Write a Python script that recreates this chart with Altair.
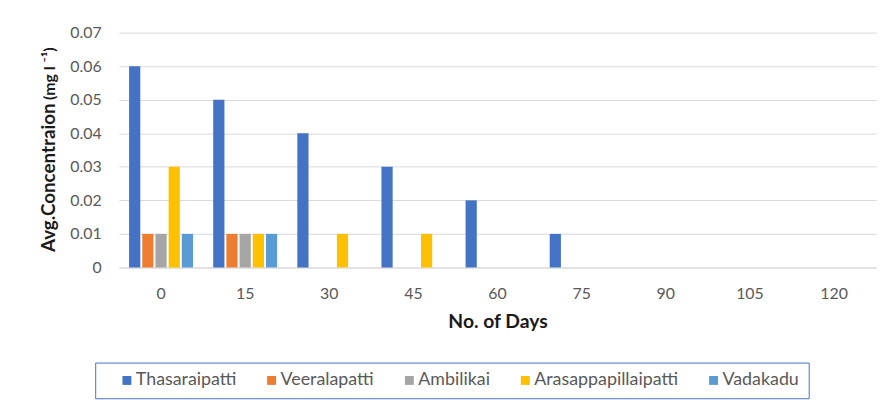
import altair as alt
import pandas as pd

days = ["0", "15", "30", "45", "60", "75", "90", "105", "120"]
series = ["Thasaraipatti", "Veeralapatti", "Ambilikai", "Arasappapillaipatti", "Vadakadu"]
colors = ["#4472C4", "#ED7D31", "#A5A5A5", "#FFC000", "#5B9BD5"]

thasaraipatti = [0.06, 0.05, 0.04, 0.03, 0.02, 0.01, 0, 0, 0]
veeralapatti = [0.01, 0.01, 0, 0, 0, 0, 0, 0, 0]
ambilikai = [0.01, 0.01, 0, 0, 0, 0, 0, 0, 0]
arasappapillaipatti = [0.03, 0.01, 0.01, 0.01, 0, 0, 0, 0, 0]
vadakadu = [0.01, 0.01, 0, 0, 0, 0, 0, 0, 0]

y_ticks = [0, 0.01, 0.02, 0.03, 0.04, 0.05, 0.06, 0.07]

values = [thasaraipatti, veeralapatti, ambilikai, arasappapillaipatti, vadakadu]
rows = []
for s, vals in zip(series, values):
    for d, v in zip(days, vals):
        rows.append({"Day": d, "Site": s, "Value": v})
df = pd.DataFrame(rows)

FONT = "Lato"

bars = alt.Chart(df).mark_bar().encode(
    x=alt.X("Day:N", sort=days,
            scale=alt.Scale(paddingInner=0.24, paddingOuter=0.12),
            axis=alt.Axis(title="No. of Days", labelAngle=0, ticks=False,
                          domainColor="#d9d9d9", labelPadding=18,
                          labelFontSize=16, labelColor="#595959",
                          titleFontSize=19.5, titleFontWeight="bold",
                          titleColor="#1a1a1a", titlePadding=12)),
    xOffset=alt.XOffset("Site:N", sort=series,
                        scale=alt.Scale(paddingInner=0.15)),
    y=alt.Y("Value:Q",
            scale=alt.Scale(domain=[0, 0.07], nice=False),
            axis=alt.Axis(values=y_ticks,
                          labelExpr="datum.value == 0 ? '0' : format(datum.value, '.2f')",
                          domain=False, ticks=False, gridColor="#d9d9d9",
                          labelPadding=18, labelFontSize=16, labelColor="#595959",
                          title="Avg.Concentraion", titleFontSize=19,
                          titleFontWeight="bold", titleColor="#1a1a1a",
                          titleAngle=270, titleAlign="left",
                          titleBaseline="alphabetic", titleX=-65, titleY=221)),
    color=alt.Color("Site:N", sort=series,
                    scale=alt.Scale(domain=series, range=colors),
                    legend=alt.Legend(title=None, orient="none", legendX=-24,
                                      legendY=333, direction="horizontal",
                                      symbolType="square", symbolSize=81,
                                      symbolStrokeWidth=0, symbolOffset=14,
                                      labelFontSize=18, labelColor="#595959",
                                      columnPadding=12, labelOffset=0,
                                      padding=9, strokeColor="#4472C4",
                                      cornerRadius=0)),
)

unit = alt.Chart(pd.DataFrame({"t": ["(mg l \u207b\u00b9)"]})).mark_text(
    angle=270, align="left", baseline="alphabetic", fontSize=16,
    fontWeight="bold", font=FONT, color="#1a1a1a"
).encode(x=alt.value(-65), y=alt.value(68), text="t:N")

chart = alt.layer(bars, unit).properties(
    width=764, height=237,
    autosize=alt.AutoSizeParams(type="none"),
    padding={"left": 112, "top": 23, "right": 12, "bottom": 138},
).configure(font=FONT).configure_view(stroke=None)

chart.save("out.html", embed_options={"renderer": "svg", "actions": False})
